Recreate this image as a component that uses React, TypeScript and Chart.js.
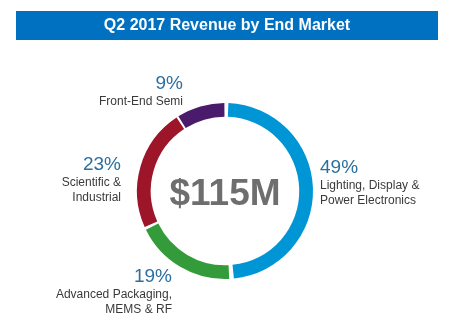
import React, { useEffect, useRef } from "react";
import { Chart, registerables } from "chart.js";

Chart.register(...registerables);

const titleText = "Q2 2017 Revenue by End Market";
const centerText = "$115M";
const categories = [
  "Lighting, Display & Power Electronics",
  "Advanced Packaging, MEMS & RF",
  "Scientific & Industrial",
  "Front-End Semi",
];
const shares = [49, 19, 23, 9];
const colors = ["#0096D6", "#339B3A", "#9C1528", "#4A1B6B"];
// label lines per category (display)
const labelLines = [
  ["Lighting, Display &", "Power Electronics"],
  ["Advanced Packaging,", "MEMS & RF"],
  ["Scientific &", "Industrial"],
  ["Front-End Semi"],
];
// anchor x, percent baseline y, alignment
const labelAnchors: { x: number; y: number; align: CanvasTextAlign }[] = [
  { x: 320, y: 173, align: "left" },
  { x: 172, y: 282, align: "right" },
  { x: 121, y: 170, align: "right" },
  { x: 183, y: 89, align: "right" },
];

const overlayPlugin = {
  id: "overlay",
  afterDraw(chart: any) {
    const ctx = chart.ctx as CanvasRenderingContext2D;
    ctx.save();
    // title bar
    ctx.fillStyle = "#0070C0";
    ctx.fillRect(16, 11, 422, 29);
    ctx.fillStyle = "#FFFFFF";
    ctx.font = "bold 16px 'Liberation Sans', Arial, sans-serif";
    ctx.textAlign = "center";
    ctx.textBaseline = "middle";
    ctx.fillText(titleText, 227, 26);

    // center text
    const meta = chart.getDatasetMeta(0);
    const arc = meta.data[0];
    const cx = arc.x;
    const cy = arc.y;
    ctx.fillStyle = "#6E6E6E";
    ctx.font = "bold 37px 'Liberation Sans', Arial, sans-serif";
    ctx.textAlign = "center";
    ctx.textBaseline = "alphabetic";
    ctx.fillText(centerText, cx, cy + 14);

    // labels
    shares.forEach((v, i) => {
      const a = labelAnchors[i];
      ctx.textAlign = a.align;
      ctx.textBaseline = "alphabetic";
      ctx.fillStyle = "#2C6FA0";
      ctx.font = "19px 'Liberation Sans', Arial, sans-serif";
      ctx.fillText(v + "%", a.x, a.y);
      ctx.fillStyle = "#3A3A3A";
      ctx.font = "12px 'Liberation Sans', Arial, sans-serif";
      labelLines[i].forEach((line, j) => {
        ctx.fillText(line, a.x, a.y + 16 + j * 15);
      });
    });
    ctx.restore();
  },
};

export default function App() {
  const ref = useRef<HTMLCanvasElement>(null);
  useEffect(() => {
    if (!ref.current) return;
    const chart = new Chart(ref.current, {
      type: "doughnut",
      data: {
        labels: categories,
        datasets: [
          {
            data: shares,
            backgroundColor: colors,
            borderWidth: 0,
            spacing: 4,
          },
        ],
      },
      options: {
        animation: false,
        responsive: false,
        cutout: "84%",
        layout: { padding: { left: 137, right: 140, top: 103, bottom: 49 } },
        plugins: {
          legend: { display: false },
          tooltip: { enabled: false },
          title: { display: false },
        },
      },
      plugins: [overlayPlugin],
    });
    return () => chart.destroy();
  }, []);
  return (
    <div style={{ position: "fixed", left: 0, top: 0, width: 453, height: 328, background: "#fff" }}>
      <canvas ref={ref} width={453} height={328} style={{ width: 453, height: 328 }} />
    </div>
  );
}
